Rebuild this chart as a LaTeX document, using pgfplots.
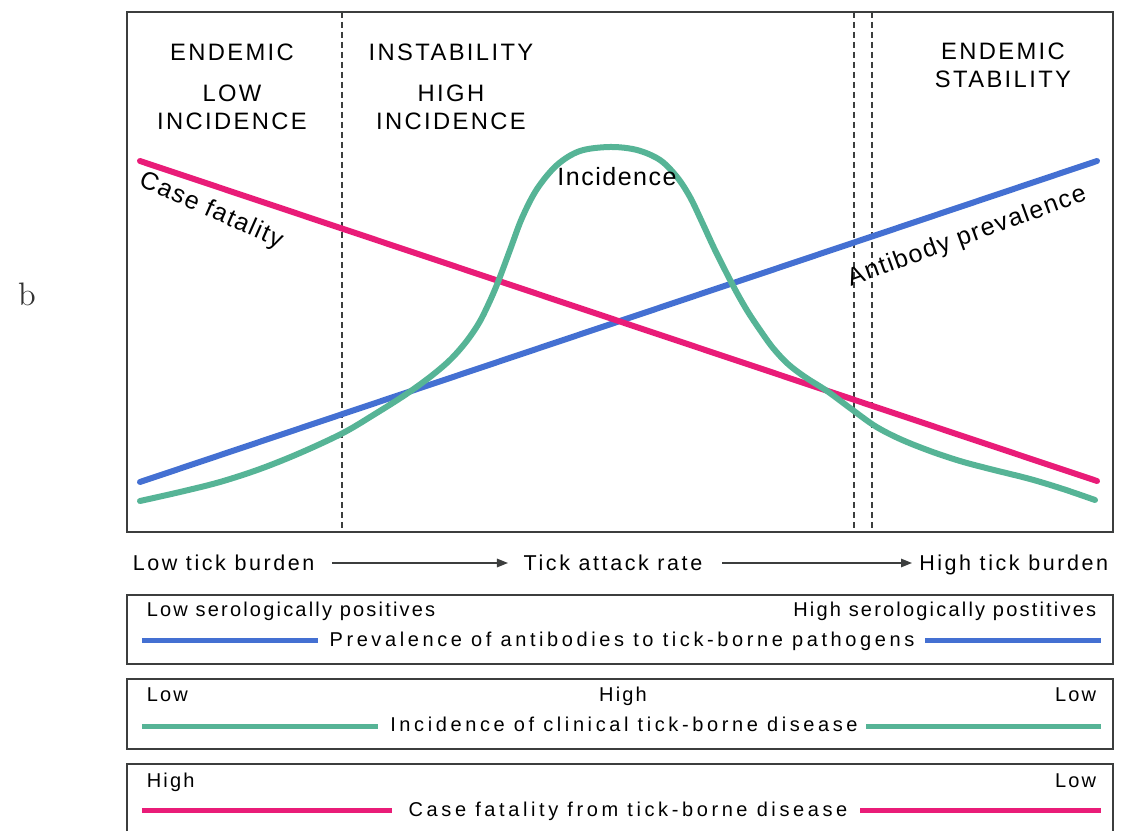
\documentclass[border=0pt]{standalone}
\usepackage{fontspec}
\usepackage{pgfplots}
\pgfplotsset{compat=1.18}
\usetikzlibrary{arrows.meta}
\setsansfont{Liberation Sans}
\newfontfamily\fcap[LetterSpace=10]{Liberation Sans}
\newfontfamily\fbot[LetterSpace=11]{Liberation Sans}
\newfontfamily\fmid[LetterSpace=18]{Liberation Sans}
\newfontfamily\frow[LetterSpace=12]{Liberation Sans}
\newfontfamily\finc[LetterSpace=6]{Liberation Sans}
\definecolor{pinkc}{RGB}{233,28,120}
\definecolor{bluec}{RGB}{68,112,210}
\definecolor{greenc}{RGB}{86,180,150}
\definecolor{txt}{RGB}{55,60,60}
\definecolor{frm}{RGB}{60,62,62}
\begin{document}
\begin{tikzpicture}
\begin{axis}[
 scale only axis, width=394.4pt, height=208pt,
 xmin=127, xmax=1113, ymin=12, ymax=532, y dir=reverse,
 xtick=\empty, ytick=\empty, clip=false,
 axis line style={frm, line width=0.8pt},
 every node/.append style={inner sep=0pt, text=txt},
]
\path (axis cs:0,0) rectangle (axis cs:1129,831);
% dashed region borders
\draw[frm, line width=0.6pt, dash pattern=on 2.4pt off 1.6pt] (axis cs:342,12) -- (axis cs:342,532);
\draw[frm, line width=0.6pt, dash pattern=on 2.4pt off 1.6pt] (axis cs:854,12) -- (axis cs:854,532);
\draw[frm, line width=0.6pt, dash pattern=on 2.4pt off 1.6pt] (axis cs:872,12) -- (axis cs:872,532);
% curves
\addplot[bluec, line width=2.4pt, line cap=round] coordinates {(140,482) (1097,161)};
\addplot[pinkc, line width=2.4pt, line cap=round] coordinates {(140,161) (1097,481)};
\addplot[greenc, line width=2.4pt, line cap=round, smooth, tension=0.55] coordinates {
(140,501) (180,492) (220,482) (260,469) (300,453) (343,433) (375,414) (405,395)
(430,377) (450,360) (466,342) (479,323) (489,303) (498,282) (510,250) (522,218)
(537,189) (557,165) (580,151) (610,147) (637,150) (660,160) (677,177) (690,197)
(702,222) (714,248) (726,272) (737,293) (748,312) (760,330) (773,348) (788,364)
(805,377) (827,391) (850,408) (875,426) (900,439) (930,451) (960,461) (990,469)
(1030,479) (1063,489) (1095,500)};
% region labels
\node[font=\fcap\fontsize{9.5}{11}\selectfont, anchor=base] at (axis cs:232,61) {ENDEMIC};
\node[font=\fcap\fontsize{9.5}{11}\selectfont, anchor=base] at (axis cs:232,102) {LOW};
\node[font=\fcap\fontsize{9.5}{11}\selectfont, anchor=base] at (axis cs:232,130) {INCIDENCE};
\node[font=\fcap\fontsize{9.5}{11}\selectfont, anchor=base] at (axis cs:451,61) {INSTABILITY};
\node[font=\fcap\fontsize{9.5}{11}\selectfont, anchor=base] at (axis cs:451,102) {HIGH};
\node[font=\fcap\fontsize{9.5}{11}\selectfont, anchor=base] at (axis cs:451,130) {INCIDENCE};
\node[font=\fcap\fontsize{9.5}{11}\selectfont, anchor=base] at (axis cs:1003,60) {ENDEMIC};
\node[font=\fcap\fontsize{9.5}{11}\selectfont, anchor=base] at (axis cs:1003,88) {STABILITY};
% curve labels
\node[font=\finc\fontsize{10}{12}\selectfont, anchor=base] at (axis cs:617,186) {Incidence};
\node[font=\finc\fontsize{10}{12}\selectfont, rotate=-24] at (axis cs:211,211) {Case fatality};
\node[font=\finc\fontsize{10}{12}\selectfont, rotate=20] at (axis cs:967,237) {Antibody prevalence};
% panel letter
\node[font=\rmfamily\fontsize{13}{15}\selectfont, text=black!80] at (axis cs:27,294) {b};
% tick attack rate row
\node[font=\frow\fontsize{8.6}{10}\selectfont, anchor=base west] at (axis cs:124,570) {Low tick burden};
\node[font=\frow\fontsize{8.6}{10}\selectfont, anchor=base] at (axis cs:613,570) {Tick attack rate};
\node[font=\frow\fontsize{8.6}{10}\selectfont, anchor=base east] at (axis cs:1117,570) {High tick burden};
\draw[frm, line width=0.6pt, -{Triangle[length=4.4pt, width=3.4pt]}] (axis cs:332,563) -- (axis cs:508,563);
\draw[frm, line width=0.6pt, -{Triangle[length=4.4pt, width=3.4pt]}] (axis cs:722,563) -- (axis cs:912,563);
% box 1
\draw[frm, line width=0.8pt] (axis cs:127,595) rectangle (axis cs:1113,664);
\node[font=\fbot\fontsize{8}{9}\selectfont, anchor=base west] at (axis cs:138,617) {Low serologically positives};
\node[font=\fbot\fontsize{8}{9}\selectfont, anchor=base east] at (axis cs:1105,617) {High serologically postitives};
\node[font=\fmid\fontsize{8}{9}\selectfont, anchor=base] at (axis cs:622,647) {Prevalence of antibodies to tick-borne pathogens};
\addplot[bluec, line width=2pt] coordinates {(142,641) (318,641)};
\addplot[bluec, line width=2pt] coordinates {(925,641) (1101,641)};
% box 2
\draw[frm, line width=0.8pt] (axis cs:127,679) rectangle (axis cs:1113,749);
\node[font=\fbot\fontsize{8}{9}\selectfont, anchor=base west] at (axis cs:138,702) {Low};
\node[font=\fbot\fontsize{8}{9}\selectfont, anchor=base] at (axis cs:623,702) {High};
\node[font=\fbot\fontsize{8}{9}\selectfont, anchor=base east] at (axis cs:1105,702) {Low};
\node[font=\fmid\fontsize{8}{9}\selectfont, anchor=base] at (axis cs:624,732) {Incidence of clinical tick-borne disease};
\addplot[greenc, line width=2pt] coordinates {(142,726) (378,726)};
\addplot[greenc, line width=2pt] coordinates {(866,726) (1101,726)};
% box 3
\draw[frm, line width=0.8pt] (axis cs:127,831) -- (axis cs:127,764) -- (axis cs:1113,764) -- (axis cs:1113,831);
\node[font=\fbot\fontsize{8}{9}\selectfont, anchor=base west] at (axis cs:138,787) {High};
\node[font=\fbot\fontsize{8}{9}\selectfont, anchor=base east] at (axis cs:1105,787) {Low};
\node[font=\fmid\fontsize{8}{9}\selectfont, anchor=base] at (axis cs:628,816) {Case fatality from tick-borne disease};
\addplot[pinkc, line width=2pt] coordinates {(142,810) (392,810)};
\addplot[pinkc, line width=2pt] coordinates {(860,810) (1101,810)};
\end{axis}
\end{tikzpicture}
\end{document}
